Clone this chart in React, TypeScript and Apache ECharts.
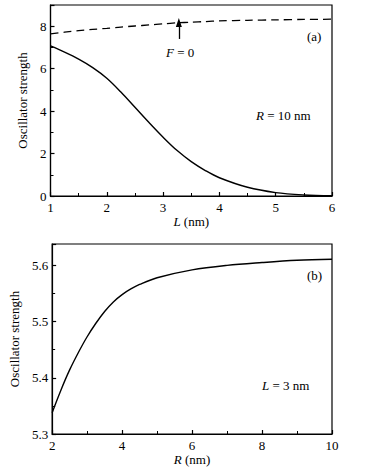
import React, { useEffect, useRef } from "react";
import * as echarts from "echarts";

// Panel (a): oscillator strength vs L (nm), R = 10 nm
const lValues = [1, 1.25, 1.5, 1.75, 2, 2.25, 2.5, 2.75, 3, 3.25, 3.5, 3.75, 4, 4.5, 5, 5.5, 6];
const strengthA = [7.07, 6.78, 6.45, 6.05, 5.55, 4.9, 4.18, 3.46, 2.77, 2.14, 1.62, 1.2, 0.86, 0.41, 0.16, 0.05, 0.01];
const strengthF0 = [7.64, 7.72, 7.79, 7.85, 7.9, 7.96, 8.01, 8.06, 8.11, 8.16, 8.19, 8.22, 8.25, 8.28, 8.3, 8.32, 8.33];
const arrowL = 3.28;
const arrowFrom = 7.4;
const arrowTo = 8.17;

// Panel (b): oscillator strength vs R (nm), L = 3 nm
const rValues = [2, 2.25, 2.5, 2.75, 3, 3.25, 3.5, 3.75, 4, 4.25, 4.5, 5, 6, 7, 8, 9, 10];
const strengthB = [5.338, 5.378, 5.414, 5.445, 5.473, 5.497, 5.518, 5.535, 5.548, 5.558, 5.566, 5.578, 5.592, 5.6, 5.605, 5.609, 5.611];

const yTicksA = { min: 0, max: 9, interval: 2 };
const yTicksB = { min: 5.3, max: 5.638, interval: 0.1 };

const FONT = "Liberation Serif";

export default function App() {
  const ref = useRef<HTMLDivElement>(null);
  useEffect(() => {
    if (!ref.current) return;
    const chart = echarts.init(ref.current, null, { renderer: "svg" });
    const axisCommon = {
      axisLine: { show: true, onZero: false, lineStyle: { color: "#000", width: 1.2 } },
      axisTick: { show: true, inside: true, length: 4, lineStyle: { color: "#000", width: 1.2 } },
      minorTick: { show: true, splitNumber: 2, length: 3, lineStyle: { color: "#000", width: 1 } },
      splitLine: { show: false },
      minorSplitLine: { show: false },
      axisLabel: { color: "#000", fontFamily: FONT, fontSize: 13, margin: 4 },
      nameTextStyle: { color: "#000", fontFamily: FONT, fontSize: 13 },
    };
    const rich = {
      i: { fontStyle: "italic", fontFamily: FONT, fontSize: 13, color: "#000" },
      n: { fontFamily: FONT, fontSize: 13, color: "#000" },
    };
    chart.setOption({
      animation: false,
      backgroundColor: "#fff",
      textStyle: { fontFamily: FONT },
      grid: [
        { left: 50.5, top: 5, width: 281.5, height: 191, show: true, borderColor: "#000", borderWidth: 1.2, backgroundColor: "transparent" },
        { left: 50.5, top: 244, width: 281.5, height: 190, show: true, borderColor: "#000", borderWidth: 1.2, backgroundColor: "transparent" },
      ],
      xAxis: [
        {
          ...axisCommon,
          gridIndex: 0,
          type: "value",
          min: 1,
          max: 6,
          interval: 1,
          name: "{i|L}{n| (nm)}",
          nameLocation: "middle",
          nameGap: 19,
          nameTextStyle: { ...axisCommon.nameTextStyle, rich },
          axisLabel: { ...axisCommon.axisLabel, margin: 5 },
        },
        {
          ...axisCommon,
          gridIndex: 1,
          type: "value",
          min: 2,
          max: 10,
          interval: 2,
          name: "{i|R}{n| (nm)}",
          nameLocation: "middle",
          nameGap: 18,
          nameTextStyle: { ...axisCommon.nameTextStyle, rich },
          axisLabel: { ...axisCommon.axisLabel, margin: 5 },
        },
      ],
      yAxis: [
        {
          ...axisCommon,
          gridIndex: 0,
          type: "value",
          ...yTicksA,
          name: "Oscillator strength",
          nameLocation: "middle",
          nameGap: 16,
          axisLabel: { ...axisCommon.axisLabel, showMaxLabel: false },
        },
        {
          ...axisCommon,
          gridIndex: 1,
          type: "value",
          ...yTicksB,
          name: "Oscillator strength",
          nameLocation: "middle",
          nameGap: 28,
          axisLabel: {
            ...axisCommon.axisLabel,
            showMaxLabel: false,
            formatter: (v: number) => v.toFixed(1),
          },
        },
      ],
      series: [
        {
          type: "line",
          xAxisIndex: 0,
          yAxisIndex: 0,
          data: lValues.map((l, i) => [l, strengthA[i]]),
          smooth: 0.35,
          showSymbol: false,
          lineStyle: { color: "#000", width: 1.4 },
        },
        {
          type: "line",
          xAxisIndex: 0,
          yAxisIndex: 0,
          data: lValues.map((l, i) => [l, strengthF0[i]]),
          smooth: 0.3,
          showSymbol: false,
          lineStyle: { color: "#000", width: 1.3, type: [8, 5] },
          markLine: {
            silent: true,
            symbol: ["none", "triangle"],
            symbolSize: [6, 9],
            label: { show: false },
            lineStyle: { color: "#000", width: 1.3, type: "solid" },
            data: [[{ coord: [arrowL, arrowFrom] }, { coord: [arrowL, arrowTo] }]],
          },
        },
        {
          type: "line",
          xAxisIndex: 1,
          yAxisIndex: 1,
          data: rValues.map((r, i) => [r, strengthB[i]]),
          smooth: 0.35,
          showSymbol: false,
          lineStyle: { color: "#000", width: 1.4 },
        },
      ],
      graphic: [
        { type: "text", left: 166, top: 46, style: { text: "{i|F}{n| = 0}", rich, fill: "#000" } },
        { type: "text", left: 307, top: 30, style: { text: "(a)", fontFamily: FONT, fontSize: 13, fill: "#000" } },
        { type: "text", left: 256, top: 109, style: { text: "{i|R}{n| = 10 nm}", rich, fill: "#000" } },
        { type: "text", left: 307, top: 269, style: { text: "(b)", fontFamily: FONT, fontSize: 13, fill: "#000" } },
        { type: "text", left: 262, top: 379, style: { text: "{i|L}{n| = 3 nm}", rich, fill: "#000" } },
      ],
    });
    return () => chart.dispose();
  }, []);
  return (
    <div
      ref={ref}
      style={{ position: "fixed", left: 0, top: 0, width: 369, height: 470, background: "#fff" }}
    />
  );
}
